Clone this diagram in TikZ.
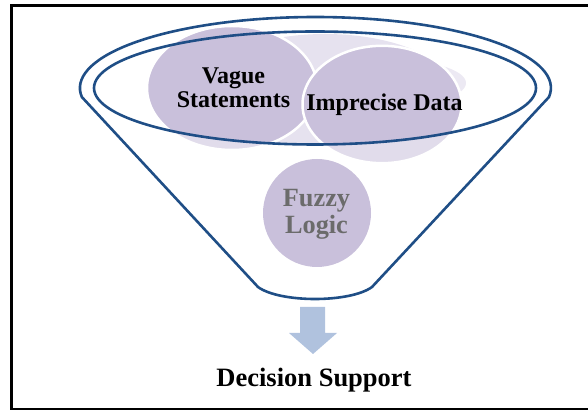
\documentclass[tikz,border=0pt]{standalone}
\usepackage{fontspec}
\setmainfont{Liberation Serif}
\definecolor{lav}{HTML}{C9C0DB}
\definecolor{lavlight}{HTML}{E6E2EF}
\definecolor{lavpale}{HTML}{ECE9F3}
\definecolor{funnelblue}{HTML}{1F4E86}
\definecolor{arrowblue}{HTML}{B0C2DE}
\definecolor{fuzzygray}{HTML}{6B6B6B}
\begin{document}
\begin{tikzpicture}[x=1pt,y=1pt,
  lbl/.style={inner sep=0pt,anchor=base,font=\bfseries\fontsize{24}{24}\selectfont},
  bubble/.style={fill=lav,draw=white,line width=2.5pt},
  funnelline/.style={draw=funnelblue,line width=2.6pt,line join=round}]
\useasboundingbox (0,0) rectangle (588,409);
\clip (0,0) rectangle (588,409);
% frame
\draw[line width=3pt] (11.5,-0.2) rectangle (595,403.5);
% light hidden circle, clipped to rim
\begin{scope}
  \clip (315,321) ellipse [x radius=221,y radius=56.5];
  \fill[lavlight] (325,318) ellipse [x radius=128,y radius=57];
  \fill[lavpale] (386,326) ellipse [x radius=80,y radius=24];
\end{scope}
% bubbles
\path[bubble] (232,321) ellipse [x radius=85,y radius=62];
\path[bubble] (382,304.5) ellipse [x radius=79.5,y radius=58.7];
% front veil of the funnel
\fill[white,opacity=0.45] (94,321) arc[start angle=180,end angle=360,x radius=221,y radius=56.5]
  -- (540,225) -- (90,225) -- cycle;
% fuzzy logic bubble
\fill[lav] (317,196) circle [radius=54];
% funnel
\draw[funnelline] (372,122) -- (549,312)
  arc[start angle=-7.28,end angle=187.28,x radius=235.5,y radius=71]
  -- (258,122) .. controls (280,106) and (350,106) .. (372,122) -- cycle;
\draw[funnelline] (315,321) ellipse [x radius=221,y radius=56.5];
% arrow
\coordinate (atip) at (313,55);
\fill[arrowblue] (300,102) -- (325,102) -- (325,76) -- (337,76) -- (atip) -- (289,76) -- (300,76) -- cycle;
% texts
\node[lbl] (vague) at (233.5,325.7) {Vague};
\node[lbl] (statements) at (233.5,301.3) {Statements};
\node[lbl] (imprecise) at (384.5,298) {Imprecise Data};
\node[lbl,text=fuzzygray,font=\bfseries\fontsize{26.3}{26.3}\selectfont] (fuzzy) at (316.5,202.3) {Fuzzy};
\node[lbl,text=fuzzygray,font=\bfseries\fontsize{26.3}{26.3}\selectfont] (logic) at (316.5,175) {Logic};
\node[lbl,font=\bfseries\fontsize{26.5}{26.5}\selectfont] (decision) at (314,23) {Decision Support};
\end{tikzpicture}
\end{document}
